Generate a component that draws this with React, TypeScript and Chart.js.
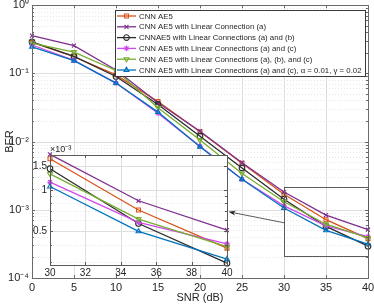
import React, { useEffect, useRef } from 'react';
import { Chart, registerables } from 'chart.js';

Chart.register(...registerables);

// ---------------- data ----------------
const snr = [0, 5, 10, 15, 20, 25, 30, 35, 40];
const berCnnAE5 = [0.284, 0.175, 0.095, 0.0385, 0.0139, 0.0048, 1.69e-3, 0.715e-3, 0.377e-3];
const berLinA = [0.356, 0.254, 0.112, 0.037, 0.0142, 0.0049, 1.82e-3, 0.835e-3, 0.51e-3];
const berLinAB = [0.29, 0.177, 0.09, 0.035, 0.012, 0.0041, 1.43e-3, 0.57e-3, 0.293e-3];
const berLinAC = [0.26, 0.155, 0.072, 0.026, 0.0085, 0.0028, 1.14e-3, 0.58e-3, 0.405e-3];
const berLinABC = [0.278, 0.205, 0.11, 0.0314, 0.0105, 0.0034, 1.31e-3, 0.614e-3, 0.386e-3];
const berLinACag = [0.245, 0.153, 0.072, 0.027, 0.0084, 0.0028, 1.06e-3, 0.5e-3, 0.313e-3];

const seriesNames = [
  'CNN AE5',
  'CNN AE5 with Linear Connection (a)',
  'CNNAE5 with Linear Connections (a) and (b)',
  'CNN AE5 with Linear Connections (a) and (c)',
  'CNN AE5 with Linear Connections (a), (b), and (c)',
  'CNN AE5 with Linear Connections (a) and (c), \u03b1 = 0.01, \u03b3 = 0.02',
];
const seriesValues = [berCnnAE5, berLinA, berLinAB, berLinAC, berLinABC, berLinACag];
const seriesColors = ['#D95319', '#7E2F8E', '#2b2b2b', '#D048F0', '#77AC30', '#0072BD'];
const seriesMarkers = ['rect', 'crossRot', 'circle', 'star', 'triangle', 'triangle'];
const seriesMarkerRot = [0, 0, 0, 0, 180, 0];

const xTicks = [0, 5, 10, 15, 20, 25, 30, 35, 40];
const yDecades = [1e-4, 1e-3, 1e-2, 1e-1, 1];
const insetXTicks = [30, 32, 34, 36, 38, 40];
const insetYTicks = [0.5e-3, 1e-3, 1.5e-3];
const insetYLabels = ['0.5', '1', '1.5'];
const insetYMinor = [3e-4, 4e-4, 6e-4, 7e-4, 8e-4, 9e-4];

// zoom box / inset range
const zoomXRange = [30, 40];
const zoomYRange = [2.07e-4, 2.15e-3];
const insetYRange = [2.84e-4, 1.8e-3];
const arrowFrom = [30, 6.45e-4];
const arrowTo = [23.4, 9.36e-4];

// ---------------- helpers ----------------
const FONT = '"Liberation Sans", Arial, Helvetica, sans-serif';
const AX = '#262626';
const supMap: Record<string, string> = {
  '0': '\u2070', '1': '\u00b9', '2': '\u00b2', '3': '\u00b3', '4': '\u2074',
  '5': '\u2075', '6': '\u2076', '7': '\u2077', '8': '\u2078', '9': '\u2079', '-': '\u207b',
};
const sup = (n: number) => String(n).split('').map((c) => supMap[c] || c).join('');

function drawMarker(ctx: CanvasRenderingContext2D, style: string, x: number, y: number, r: number, rot: number) {
  ctx.save();
  ctx.translate(x, y);
  ctx.rotate((rot * Math.PI) / 180);
  ctx.beginPath();
  if (style === 'rect') {
    const s = r * Math.SQRT1_2;
    ctx.rect(-s, -s, 2 * s, 2 * s);
  } else if (style === 'circle') {
    ctx.arc(0, 0, r, 0, Math.PI * 2);
  } else if (style === 'crossRot') {
    const s = r * Math.SQRT1_2;
    ctx.moveTo(-s, -s); ctx.lineTo(s, s);
    ctx.moveTo(-s, s); ctx.lineTo(s, -s);
  } else if (style === 'star') {
    const s = r * Math.SQRT1_2;
    ctx.moveTo(-s, -s); ctx.lineTo(s, s);
    ctx.moveTo(-s, s); ctx.lineTo(s, -s);
    ctx.moveTo(0, -r); ctx.lineTo(0, r);
    ctx.moveTo(-r, 0); ctx.lineTo(r, 0);
  } else if (style === 'triangle') {
    const side = (3 * r) / Math.sqrt(3);
    const h = (side * Math.sqrt(3)) / 2;
    ctx.moveTo(0, -(2 / 3) * h);
    ctx.lineTo(side / 2, h / 3);
    ctx.lineTo(-side / 2, h / 3);
    ctx.closePath();
  }
  ctx.stroke();
  ctx.restore();
}

const line = (ctx: CanvasRenderingContext2D, x1: number, y1: number, x2: number, y2: number) => {
  ctx.beginPath();
  ctx.moveTo(x1, y1);
  ctx.lineTo(x2, y2);
  ctx.stroke();
};
const px = (v: number) => Math.round(v) + 0.5;

function makeDatasets(filter: (x: number) => boolean) {
  return seriesNames.map((name, i) => ({
    label: name,
    data: snr.map((x, j) => ({ x, y: seriesValues[i][j] })).filter((p) => filter(p.x)),
    borderColor: seriesColors[i],
    backgroundColor: 'rgba(0,0,0,0)',
    pointBackgroundColor: 'rgba(0,0,0,0)',
    pointBorderColor: seriesColors[i],
    pointStyle: seriesMarkers[i] as any,
    pointRotation: seriesMarkerRot[i],
    pointRadius: 2.8,
    pointBorderWidth: 1.1,
    borderWidth: 1.3,
    tension: 0,
    order: seriesNames.length - i,
    clip: false as any,
  }));
}

// ---------------- main plugin ----------------
const mainDecor = {
  id: 'mainDecor',
  beforeDatasetsDraw(chart: any) {
    const { ctx, chartArea, scales } = chart;
    const { left, right, top, bottom } = chartArea;
    const x = scales.x, y = scales.y;
    ctx.save();
    ctx.lineWidth = 1;
    ctx.strokeStyle = '#e6e6e6';
    ctx.setLineDash([1, 2]);
    for (let d = 0; d < yDecades.length - 1; d++) {
      for (let k = 2; k <= 9; k++) {
        const py = px(y.getPixelForValue(yDecades[d] * k));
        line(ctx, left, py, right, py);
      }
    }
    ctx.setLineDash([]);
    ctx.strokeStyle = '#dedede';
    yDecades.forEach((v) => {
      const py = px(y.getPixelForValue(v));
      line(ctx, left, py, right, py);
    });
    xTicks.forEach((v) => {
      const pxv = px(x.getPixelForValue(v));
      line(ctx, pxv, top, pxv, bottom);
    });
    ctx.restore();
  },
  afterDatasetsDraw(chart: any) {
    const { ctx, chartArea, scales } = chart;
    const { left, right, top, bottom } = chartArea;
    const x = scales.x, y = scales.y;
    ctx.save();
    ctx.strokeStyle = '#6a6a6a';
    ctx.lineWidth = 1;
    ctx.strokeRect(px(left), px(top), Math.round(right - left), Math.round(bottom - top));
    xTicks.forEach((v) => {
      const pxv = px(x.getPixelForValue(v));
      line(ctx, pxv, bottom, pxv, bottom - 3);
      line(ctx, pxv, top, pxv, top + 3);
    });
    for (let d = 0; d < yDecades.length; d++) {
      const py = px(y.getPixelForValue(yDecades[d]));
      line(ctx, left, py, left + 3, py);
      line(ctx, right, py, right - 3, py);
      if (d < yDecades.length - 1) {
        for (let k = 2; k <= 9; k++) {
          const pm = px(y.getPixelForValue(yDecades[d] * k));
          line(ctx, left, pm, left + 2, pm);
          line(ctx, right, pm, right - 2, pm);
        }
      }
    }
    // zoom rectangle
    ctx.strokeStyle = '#5a5a5a';
    const zx1 = x.getPixelForValue(zoomXRange[0]);
    const zx2 = x.getPixelForValue(zoomXRange[1]);
    const zy1 = y.getPixelForValue(zoomYRange[1]);
    const zy2 = y.getPixelForValue(zoomYRange[0]);
    ctx.strokeRect(px(zx1), px(zy1), Math.round(zx2 - zx1), Math.round(zy2 - zy1));
    // arrow
    const ax1 = x.getPixelForValue(arrowFrom[0]);
    const ay1 = y.getPixelForValue(arrowFrom[1]);
    const ax2 = x.getPixelForValue(arrowTo[0]);
    const ay2 = y.getPixelForValue(arrowTo[1]);
    ctx.strokeStyle = '#333';
    ctx.lineWidth = 0.8;
    const ang = Math.atan2(ay2 - ay1, ax2 - ax1);
    line(ctx, ax1, ay1, ax2 - 5 * Math.cos(ang), ay2 - 5 * Math.sin(ang));
    ctx.fillStyle = '#222';
    ctx.beginPath();
    ctx.moveTo(ax2, ay2);
    ctx.lineTo(ax2 - 7 * Math.cos(ang) + 2.5 * Math.sin(ang), ay2 - 7 * Math.sin(ang) - 2.5 * Math.cos(ang));
    ctx.lineTo(ax2 - 5 * Math.cos(ang), ay2 - 5 * Math.sin(ang));
    ctx.lineTo(ax2 - 7 * Math.cos(ang) - 2.5 * Math.sin(ang), ay2 - 7 * Math.sin(ang) + 2.5 * Math.cos(ang));
    ctx.closePath();
    ctx.fill();

    // legend
    const lx = 115.5, ly = 10.5, lw = 250, lh = 66;
    ctx.fillStyle = '#ffffff';
    ctx.fillRect(lx, ly, lw, lh);
    ctx.strokeStyle = '#3a3a3a';
    ctx.lineWidth = 1;
    ctx.strokeRect(lx, ly, lw, lh);
    // fit the font so the longest entry spans the reference width
    let fs = 8.5;
    ctx.font = `${fs}px ${FONT}`;
    const widest = Math.max(...seriesNames.map((n) => ctx.measureText(n).width));
    if (widest > 223) fs = (fs * 223) / widest;
    ctx.font = `${fs.toFixed(2)}px ${FONT}`;
    ctx.textBaseline = 'middle';
    ctx.textAlign = 'left';
    seriesNames.forEach((name, i) => {
      const cy = 16 + i * 10.8;
      ctx.strokeStyle = seriesColors[i];
      ctx.lineWidth = 1.3;
      line(ctx, 117, cy, 136, cy);
      ctx.lineWidth = 1.1;
      drawMarker(ctx, seriesMarkers[i], 126.5, cy, 2.8, seriesMarkerRot[i]);
      ctx.fillStyle = AX;
      ctx.fillText(name, 139, cy + 0.5);
    });
    ctx.restore();
  },
};

// ---------------- inset plugin ----------------
const insetDecor = {
  id: 'insetDecor',
  beforeDraw(chart: any) {
    const { ctx, chartArea } = chart;
    const { left, right, top, bottom } = chartArea;
    ctx.save();
    ctx.fillStyle = '#ffffff';
    ctx.fillRect(left, top, right - left, bottom - top);
    ctx.restore();
  },
  beforeDatasetsDraw(chart: any) {
    const { ctx, chartArea, scales } = chart;
    const { left, right, top, bottom } = chartArea;
    const x = scales.x, y = scales.y;
    ctx.save();
    ctx.lineWidth = 1;
    ctx.strokeStyle = '#e8e8e8';
    ctx.setLineDash([1, 2]);
    insetYMinor.forEach((v) => {
      const py = px(y.getPixelForValue(v));
      line(ctx, left, py, right, py);
    });
    ctx.setLineDash([]);
    ctx.strokeStyle = '#dedede';
    insetYTicks.forEach((v) => {
      const py = px(y.getPixelForValue(v));
      line(ctx, left, py, right, py);
    });
    insetXTicks.forEach((v) => {
      const pxv = px(x.getPixelForValue(v));
      line(ctx, pxv, top, pxv, bottom);
    });
    ctx.restore();
  },
  afterDatasetsDraw(chart: any) {
    const { ctx, chartArea, scales } = chart;
    const { left, right, top, bottom } = chartArea;
    const x = scales.x, y = scales.y;
    ctx.save();
    ctx.strokeStyle = '#5a5a5a';
    ctx.lineWidth = 1;
    ctx.strokeRect(px(left), px(top), Math.round(right - left), Math.round(bottom - top));
    insetXTicks.forEach((v) => {
      const pxv = px(x.getPixelForValue(v));
      line(ctx, pxv, bottom, pxv, bottom - 3);
      line(ctx, pxv, top, pxv, top + 3);
    });
    insetYTicks.forEach((v) => {
      const py = px(y.getPixelForValue(v));
      line(ctx, left, py, left + 3, py);
      line(ctx, right, py, right - 3, py);
    });
    insetYMinor.forEach((v) => {
      const py = px(y.getPixelForValue(v));
      line(ctx, left, py, left + 2, py);
      line(ctx, right, py, right - 2, py);
    });
    ctx.fillStyle = AX;
    ctx.font = `9px ${FONT}`;
    ctx.textAlign = 'left';
    ctx.textBaseline = 'bottom';
    ctx.fillText('\u00d710' + sup(-3), left, top - 1);
    ctx.restore();
  },
};

function MainChart() {
  const ref = useRef<HTMLCanvasElement>(null);
  useEffect(() => {
    if (!ref.current) return;
    const chart = new Chart(ref.current, {
      type: 'line',
      data: { datasets: makeDatasets(() => true) as any },
      options: {
        responsive: false,
        animation: false,
        devicePixelRatio: 1,
        layout: { padding: { top: 5, right: 6, left: 0, bottom: 0 } },
        plugins: { legend: { display: false }, tooltip: { enabled: false } },
        scales: {
          x: {
            type: 'linear',
            min: 0,
            max: 40,
            afterBuildTicks: (s: any) => { s.ticks = xTicks.map((v) => ({ value: v })); },
            afterFit: (s: any) => { s.height = 28; s.paddingLeft = 0; s.paddingRight = 0; },
            ticks: { color: AX, font: { size: 11, family: FONT }, padding: 3, maxRotation: 0, autoSkip: false },
            grid: { display: false, drawTicks: false },
            border: { display: false },
            title: { display: true, text: 'SNR (dB)', color: AX, font: { size: 11, family: FONT }, padding: { top: 1, bottom: 1 } },
          },
          y: {
            type: 'logarithmic',
            min: 1e-4,
            max: 1,
            afterBuildTicks: (s: any) => { s.ticks = yDecades.map((v) => ({ value: v })); },
            afterFit: (s: any) => { s.width = 32; s.paddingTop = 0; s.paddingBottom = 0; },
            ticks: {
              color: AX,
              font: { size: 11, family: FONT },
              padding: 3,
              autoSkip: false,
              callback: (v: any) => '10' + sup(Math.round(Math.log10(Number(v)))),
            },
            grid: { display: false, drawTicks: false },
            border: { display: false },
            title: { display: true, text: 'BER', color: AX, font: { size: 11, family: FONT }, padding: { top: 3, bottom: 3 } },
          },
        },
      } as any,
      plugins: [mainDecor],
    });
    return () => chart.destroy();
  }, []);
  return <canvas ref={ref} width={374} height={306} style={{ position: 'absolute', left: 0, top: 0 }} />;
}

function InsetChart() {
  const ref = useRef<HTMLCanvasElement>(null);
  useEffect(() => {
    if (!ref.current) return;
    const chart = new Chart(ref.current, {
      type: 'line',
      data: { datasets: makeDatasets((x) => x >= zoomXRange[0]) as any },
      options: {
        responsive: false,
        animation: false,
        devicePixelRatio: 1,
        layout: { padding: { top: 13, right: 9, left: 0, bottom: 0 } },
        plugins: { legend: { display: false }, tooltip: { enabled: false } },
        scales: {
          x: {
            type: 'linear',
            min: zoomXRange[0],
            max: zoomXRange[1],
            afterBuildTicks: (s: any) => { s.ticks = insetXTicks.map((v) => ({ value: v })); },
            afterFit: (s: any) => { s.height = 17; s.paddingLeft = 0; s.paddingRight = 0; },
            ticks: { color: AX, font: { size: 10, family: FONT }, padding: 2, maxRotation: 0, autoSkip: false },
            grid: { display: false, drawTicks: false },
            border: { display: false },
          },
          y: {
            type: 'logarithmic',
            min: insetYRange[0],
            max: insetYRange[1],
            afterBuildTicks: (s: any) => { s.ticks = insetYTicks.map((v) => ({ value: v })); },
            afterFit: (s: any) => { s.width = 26; s.paddingTop = 0; s.paddingBottom = 0; },
            ticks: {
              color: AX,
              font: { size: 10, family: FONT },
              padding: 3,
              autoSkip: false,
              callback: (v: any) => {
                const idx = insetYTicks.findIndex((t) => Math.abs(t - Number(v)) < 1e-9);
                return idx >= 0 ? insetYLabels[idx] : '';
              },
            },
            grid: { display: false, drawTicks: false },
            border: { display: false },
          },
        },
      } as any,
      plugins: [insetDecor],
    });
    return () => chart.destroy();
  }, []);
  return <canvas ref={ref} width={212} height={140} style={{ position: 'absolute', left: 24, top: 142 }} />;
}

export default function App() {
  return (
    <div style={{ position: 'fixed', left: 0, top: 0, width: 374, height: 306, background: '#ffffff' }}>
      <MainChart />
      <InsetChart />
    </div>
  );
}
